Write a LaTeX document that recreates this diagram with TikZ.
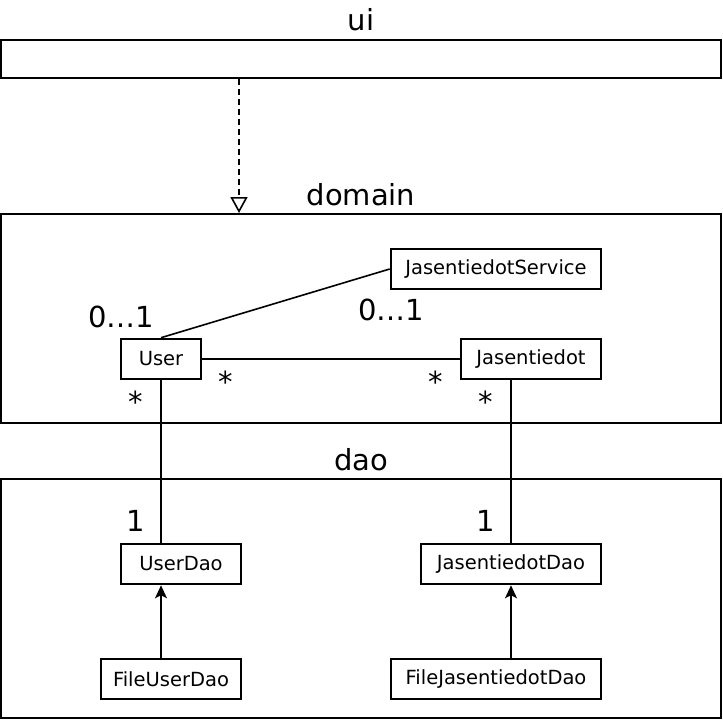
\documentclass[tikz,border=0pt]{standalone}
\usepackage{fontspec}
\setmainfont{DejaVu Sans}
\usetikzlibrary{arrows.meta}
\begin{document}
\begin{tikzpicture}[x=1pt,y=-1pt,
  pkg/.style={draw,line width=2.6pt,inner sep=0pt},
  cls/.style={draw,line width=2.6pt,inner sep=0pt,minimum height=40pt,font=\fontsize{19.5}{22}\selectfont},
  big/.style={font=\fontsize{29}{32}\selectfont,inner sep=0pt},
  conn/.style={line width=1.6pt},
  filledtip/.style={-{Stealth[length=13pt,width=12pt,inset=3pt]}}]
\useasboundingbox (0,0) rectangle (723,721);
\node[pkg,minimum width=720pt,minimum height=38pt] (ui) at (361,59) {};
\node[pkg,minimum width=720pt,minimum height=209pt] (domain) at (361,318.5) {};
\node[pkg,minimum width=720pt,minimum height=239pt] (dao) at (361,598.5) {};
\node[big] (luilab) at (361,20) {ui};
\node[big] (ldomain) at (361,195) {domain};
\node[big] (ldao) at (361,460) {dao};
\node[cls,minimum width=210pt] (service) at (496,269) {\raisebox{-1pt}{JasentiedotService}};
\node[cls,minimum width=80pt] (user) at (161,359) {\raisebox{-1pt}{User}};
\node[cls,minimum width=140pt] (jas) at (531,359) {\raisebox{-1pt}{Jasentiedot}};
\node[cls,minimum width=120pt] (userdao) at (181,564) {\raisebox{-1pt}{UserDao}};
\node[cls,minimum width=180pt] (jasdao) at (511,564) {\raisebox{-1pt}{JasentiedotDao}};
\node[cls,minimum width=140pt] (fileuser) at (171,679) {\raisebox{-1pt}{FileUserDao}};
\node[cls,minimum width=210pt] (filejas) at (496,679) {\raisebox{-1pt}{FileJasentiedotDao}};
\coordinate (uiS) at (239,79);
\coordinate (domN) at (239,213);
\draw[conn,dash pattern=on 6pt off 4pt,-{Triangle[open,length=16pt,width=17pt,line width=1.6pt]}] (uiS) -- (domN);
\draw[conn] (user.north) -- (service.west);
\draw[conn] (user.east) -- (jas.west);
\draw[conn] (user.south) -- (user.south |- userdao.north);
\draw[conn] (jas.south -| 511,0) -- (jasdao.north);
\draw[conn,filledtip] (fileuser.north -| 161,0) -- (userdao.south -| 161,0);
\draw[conn,filledtip] (filejas.north -| 511,0) -- (jasdao.south);
\node[big] (m1) at (121,317) {0…1};
\node[big] (m2) at (391,310) {0…1};
\node[big] (m3) at (226,382) {*};
\node[big] (m4) at (436,382) {*};
\node[big] (m5) at (136,402) {*};
\node[big] (m6) at (486,402) {*};
\node[big] (m7) at (136,521) {1};
\node[big] (m8) at (486,521) {1};
\end{tikzpicture}
\end{document}
